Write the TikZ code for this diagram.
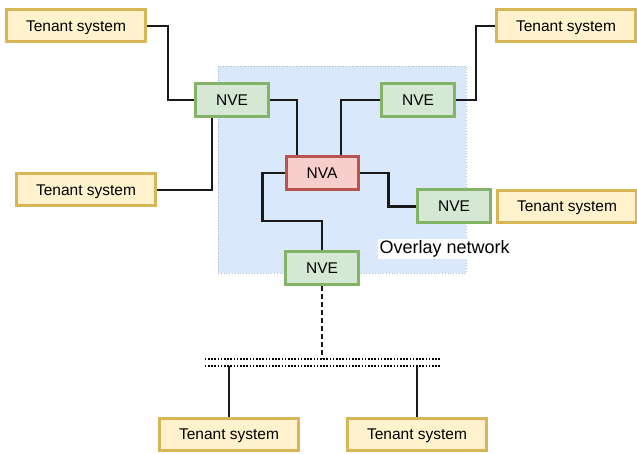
\documentclass[tikz,border=0pt]{standalone}
\usepackage{fontspec}
\setmainfont{Liberation Sans}
\usetikzlibrary{calc}
\definecolor{tenantfill}{HTML}{FFF2CC}
\definecolor{tenantline}{HTML}{D6B656}
\definecolor{nvefill}{HTML}{D5E8D4}
\definecolor{nveline}{HTML}{82B366}
\definecolor{nvafill}{HTML}{F8CECC}
\definecolor{nvaline}{HTML}{B85450}
\definecolor{overlayfill}{HTML}{DAE8FC}
\definecolor{overlayline}{HTML}{A9BCD8}
\tikzset{
  box/.style={draw, line width=3pt, inner sep=0pt, text height=11pt, text depth=0pt,
              font=\fontsize{15.5}{18}\selectfont},
  tenant/.style={box, fill=tenantfill, draw=tenantline, minimum width=139pt, minimum height=32pt},
  nve/.style={box, fill=nvefill, draw=nveline, minimum width=73pt, minimum height=33pt},
  nva/.style={box, fill=nvafill, draw=nvaline, minimum width=72pt, minimum height=33pt},
  link/.style={line width=2.5pt, black!90},
  buswire/.style={line width=2.2pt, dash pattern=on 1.6pt off 1.6pt},
}
\begin{document}
\begin{tikzpicture}[x=1pt,y=-1pt]
\useasboundingbox (0,0) rectangle (637,454);

% overlay network area
\node[draw=overlayline, fill=overlayfill, dotted, line width=0.8pt,
      minimum width=248pt, minimum height=207pt, inner sep=0pt] (overlay) at (342,169.5) {};
\node[anchor=west, fill=white, inner sep=1.5pt, font=\fontsize{18}{21}\selectfont] (olabel) at (378,249) {Overlay network};

% tenant systems
\node[tenant] (ts1) at (76,26) {Tenant system};
\node[tenant] (ts2) at (566,26) {Tenant system};
\node[tenant] (ts3) at (86,190) {Tenant system};
\node[tenant] (ts4) at (567,206.5) {Tenant system};
\node[tenant] (ts5) at (229,434) {Tenant system};
\node[tenant] (ts6) at (417,434) {Tenant system};

% edges and appliance
\node[nve] (nve1) at (232,100) {NVE};
\node[nve] (nve2) at (418,100) {NVE};
\node[nva] (nva) at (322,173) {NVA};
\node[nve] (nve3) at (454,206.5) {NVE};
\node[nve] (nve4) at (322,268) {NVE};

% underlay bus
\node[inner sep=0pt, minimum width=236pt, minimum height=6pt] (bus) at (323,362.5) {};

% connectors
\draw[link] (ts1.east) -- ++(21,0) |- (nve1.west);
\draw[link] ([xshift=-20pt]nve1.south) |- (ts3.east);
\draw[link] (nve1.east) -| ([xshift=-25pt]nva.north);
\draw[link] ([xshift=19pt]nva.north) |- (nve2.west);
\draw[link] (nve2.east) -- ++(20,0) |- (ts2.west);
\draw[link] (nva.east) -- ++(29,0) |- (nve3.west);
\draw[link] (nve4.north) -- ++(0,-29) -| ([xshift=-22pt]nva.west) -- (nva.west);
\draw[link, dash pattern=on 5pt off 3pt] (nve4.south) -- (nve4.south |- bus.north);

% bus wires
\draw[buswire] (bus.north west) -- (bus.north east);
\draw[buswire] (bus.south west) -- (bus.south east);
\draw[link] (bus.south -| ts5.north) -- (ts5.north);
\draw[link] (bus.south -| ts6.north) -- (ts6.north);
\end{tikzpicture}
\end{document}
